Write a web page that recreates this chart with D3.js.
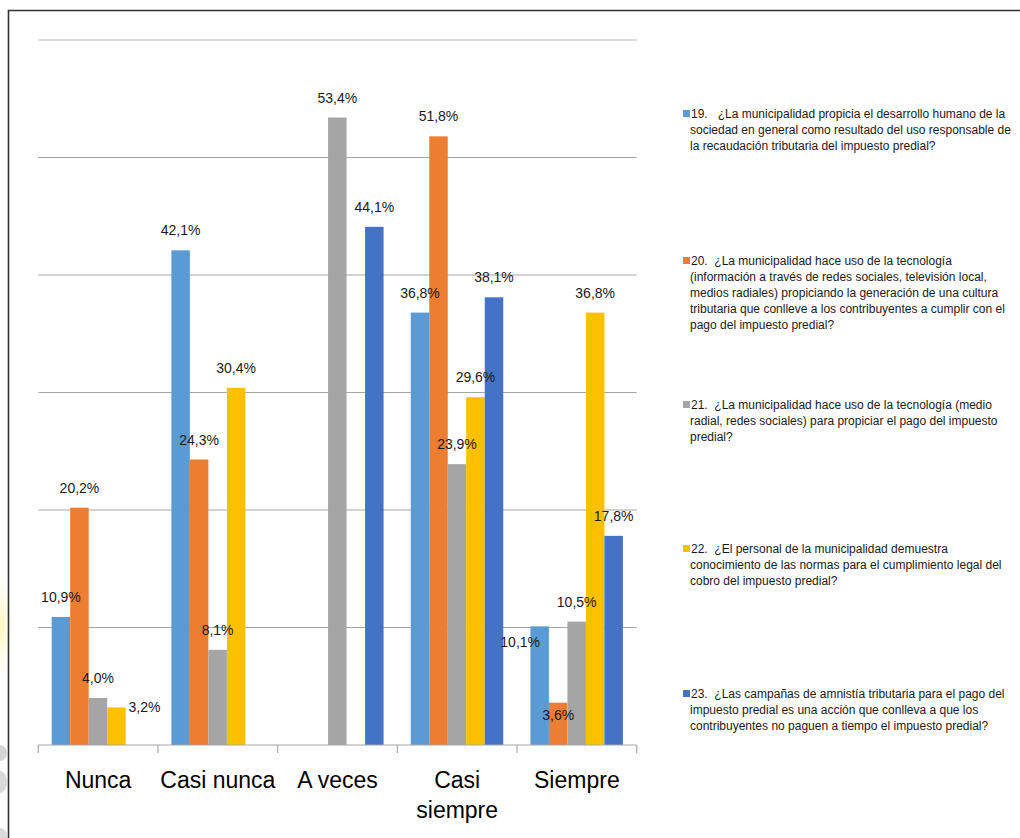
<!DOCTYPE html>
<html>
<head>
<meta charset="utf-8">
<script src="https://cdn.jsdelivr.net/npm/d3@7"></script>
<style>
  html, body { margin: 0; padding: 0; background: #fff; }
  svg { display: block; }
</style>
</head>
<body>
<svg id="chart" width="1020" height="838"></svg>
<script>
// ---------- data ----------
const categories = ["Nunca", "Casi nunca", "A veces", "Casi siempre", "Siempre"];
const categoryLines = [["Nunca"], ["Casi nunca"], ["A veces"], ["Casi", "siempre"], ["Siempre"]];
const seriesKeys = ["19", "20", "21", "22", "23"];
const s19 = [10.9, 42.1, null, 36.8, 10.1];
const s20 = [20.2, 24.3, null, 51.8, 3.6];
const s21 = [4.0, 8.1, 53.4, 23.9, 10.5];
const s22 = [3.2, 30.4, null, 29.6, 36.8];
const s23 = [null, null, 44.1, 38.1, 17.8];
const seriesValues = [s19, s20, s21, s22, s23];
const legendLines = [
  ["19.   ¿La municipalidad propicia el desarrollo humano de la", "sociedad en general como resultado del uso responsable de", "la recaudación tributaria del impuesto predial?"],
  ["20.  ¿La municipalidad hace uso de la tecnología", "(información a través de redes sociales, televisión local,", "medios radiales) propiciando la generación de una cultura", "tributaria que conlleve a los contribuyentes a cumplir con el", "pago del impuesto predial?"],
  ["21.  ¿La municipalidad hace uso de la tecnología (medio", "radial, redes sociales) para propiciar el pago del impuesto", "predial?"],
  ["22.  ¿El personal de la municipalidad demuestra", "conocimiento de las normas para el cumplimiento legal del", "cobro del impuesto predial?"],
  ["23.  ¿Las campañas de amnistía tributaria para el pago del", "impuesto predial es una acción que conlleva a que los", "contribuyentes no paguen a tiempo el impuesto predial?"]
];
const yTicks = [0, 10, 20, 30, 40, 50, 60];

// ---------- styles / layout ----------
const colors = ["#5B9BD5", "#ED7D31", "#A5A5A5", "#FFC000", "#4472C4"];
// manual label nudges [series][category] -> [dx, dy]
const labelNudge = {"3-0": [28, 20], "0-4": [-19.5, 36], "1-4": [0, 32]};
const legendTop = [118, 265, 409, 553, 698];

const svg = d3.select("#chart");

// decorative watermark fragments at left edge
const deco = svg.append("g");
const grad = svg.append("defs").append("radialGradient").attr("id", "glow");
grad.append("stop").attr("offset", "0%").attr("stop-color", "#fff6b0").attr("stop-opacity", 0.9);
grad.append("stop").attr("offset", "100%").attr("stop-color", "#fffbe0").attr("stop-opacity", 0);
deco.append("ellipse").attr("cx", 0).attr("cy", 625).attr("rx", 14).attr("ry", 55).attr("fill", "url(#glow)");
deco.append("ellipse").attr("cx", 0).attr("cy", 753).attr("rx", 7).attr("ry", 8).attr("fill", "#d4d4d4");
deco.append("ellipse").attr("cx", 0).attr("cy", 782).attr("rx", 7).attr("ry", 11).attr("fill", "#d9d9d9");
deco.append("ellipse").attr("cx", 0).attr("cy", 836).attr("rx", 7).attr("ry", 8).attr("fill", "#dadada");

// frame
svg.append("path").attr("d", "M8.5,838 L8.5,10.5 L1020,10.5")
  .attr("fill", "none").attr("stroke", "#333").attr("stroke-width", 1.6);

const plotLeft = 38.3, plotRight = 636.7, plotTop = 40, plotBottom = 745;

const y = d3.scaleLinear().domain([0, 60]).range([plotBottom, plotTop]);
const x0 = d3.scaleBand().domain(categories).range([plotLeft, plotRight]).padding(0);
const x1 = d3.scaleBand().domain(seriesKeys).range([13.4, 13.4 + 5 * 18.5]).padding(0);

// gridlines
svg.append("g").selectAll("line").data(yTicks.filter(t => t > 0)).join("line")
  .attr("x1", plotLeft).attr("x2", plotRight)
  .attr("y1", d => y(d)).attr("y2", d => y(d))
  .attr("stroke", d => d === 60 ? "#b8b8b8" : "#a6a6a6").attr("stroke-width", 1.2);

// bars
const fmt = v => v.toFixed(1).replace(".", ",") + "%";
const barData = [];
seriesValues.forEach((arr, si) => arr.forEach((v, ci) => {
  if (v !== null) barData.push({si, ci, v});
}));

svg.append("g").selectAll("rect").data(barData).join("rect")
  .attr("x", d => x0(categories[d.ci]) + x1(seriesKeys[d.si]))
  .attr("y", d => y(d.v))
  .attr("width", x1.bandwidth())
  .attr("height", d => y(0) - y(d.v))
  .attr("fill", d => colors[d.si]);

// data labels
svg.append("g").selectAll("text").data(barData).join("text")
  .attr("x", d => x0(categories[d.ci]) + x1(seriesKeys[d.si]) + x1.bandwidth() / 2 + (labelNudge[d.si + "-" + d.ci] || [0, 0])[0])
  .attr("y", d => y(d.v) - 20 + (labelNudge[d.si + "-" + d.ci] || [0, 0])[1])
  .attr("dy", "0.36em")
  .attr("text-anchor", "middle")
  .attr("font-family", "'Liberation Sans', Arial, sans-serif")
  .attr("font-size", 14)
  .attr("fill", "#1a1a1a")
  .text(d => fmt(d.v));

// x axis
const xAxis = svg.append("g").attr("transform", `translate(0,${plotBottom})`);
xAxis.append("line").attr("x1", plotLeft).attr("x2", plotRight).attr("y1", 0).attr("y2", 0)
  .attr("stroke", "#a6a6a6").attr("stroke-width", 1.2);
const boundaries = categories.map(c => x0(c)).concat([plotRight]);
xAxis.selectAll("line.tick").data(boundaries).join("line").attr("class", "tick")
  .attr("x1", d => d).attr("x2", d => d).attr("y1", 0).attr("y2", 8)
  .attr("stroke", "#a6a6a6").attr("stroke-width", 1.2);

svg.append("g").selectAll("text").data(categories).join("text")
  .attr("x", d => x0(d) + x0.bandwidth() / 2)
  .attr("y", 788)
  .attr("text-anchor", "middle")
  .attr("font-family", "'Liberation Sans', Arial, sans-serif")
  .attr("font-size", 23)
  .attr("fill", "#000")
  .each(function(d, i) {
    const t = d3.select(this);
    categoryLines[i].forEach((ln, k) => {
      t.append("tspan").attr("x", x0(d) + x0.bandwidth() / 2).attr("dy", k === 0 ? 0 : 30).text(ln);
    });
  });

// legend
const legend = svg.append("g");
legendLines.forEach((lines, i) => {
  const top = legendTop[i];
  legend.append("rect").attr("x", 683).attr("y", top - 8).attr("width", 7).attr("height", 7).attr("fill", colors[i]);
  const t = legend.append("text")
    .attr("font-family", "'Liberation Sans', Arial, sans-serif")
    .attr("font-size", 12)
    .attr("fill", "#1a1a1a")
    .style("white-space", "pre");
  lines.forEach((ln, k) => {
    t.append("tspan").attr("x", k === 0 ? 691 : 690).attr("y", top + k * 16).text(ln);
  });
});
</script>
</body>
</html>
